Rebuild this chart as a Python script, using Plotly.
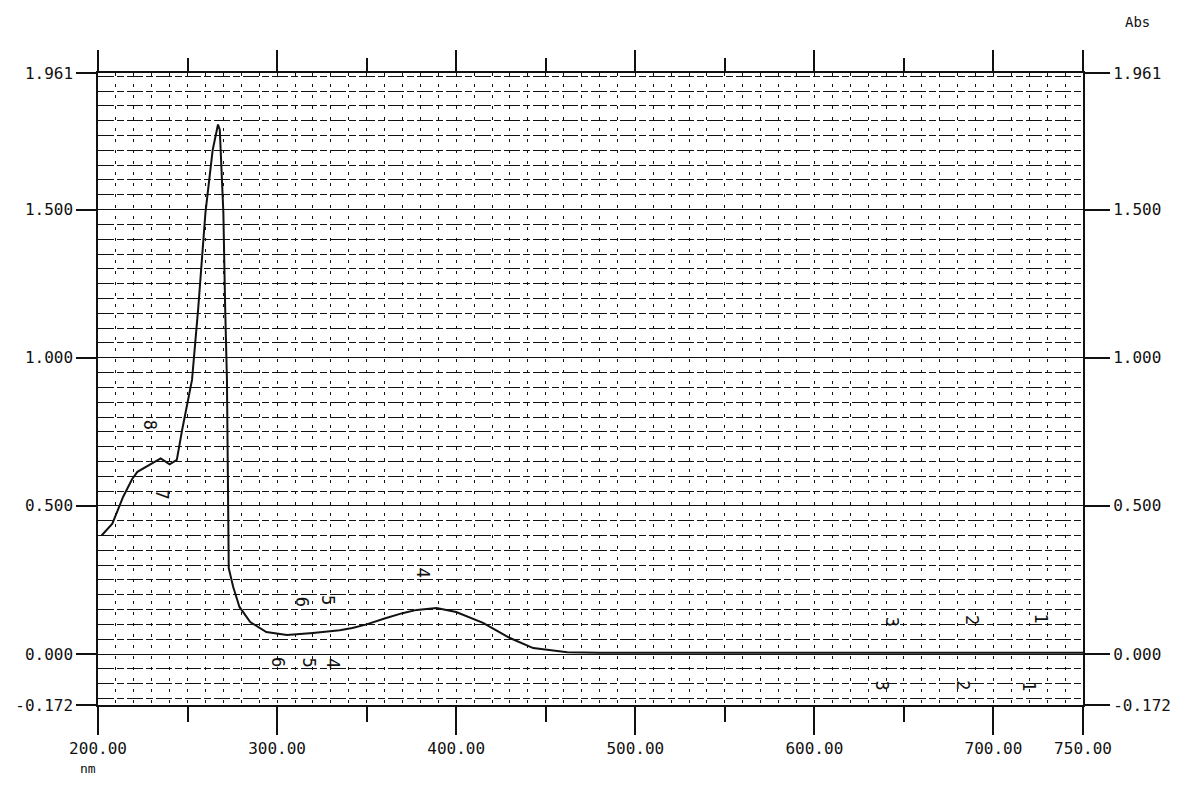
import plotly.graph_objects as go

# ---- data ----
wavelength = [202, 208, 214, 219, 222, 229, 235, 240, 244, 247, 250, 252.5, 256, 260, 264,
              266.5, 267, 268, 270, 271, 272, 273, 275.5, 279, 285, 294, 305.5, 320, 335,
              342, 350, 360, 370, 378, 389, 400, 415, 430, 443, 462, 480, 508, 550, 600,
              650, 700, 750]
absorbance = [0.40, 0.44, 0.53, 0.59, 0.615, 0.64, 0.66, 0.64, 0.655, 0.757, 0.85, 0.925,
              1.17, 1.49, 1.70, 1.77, 1.787, 1.77, 1.49, 1.17, 0.925, 0.29, 0.226, 0.159,
              0.108, 0.074, 0.064, 0.071, 0.080, 0.088, 0.100, 0.120, 0.138, 0.149, 0.155,
              0.142, 0.105, 0.054, 0.020, 0.006, 0.004, 0.004, 0.004, 0.004, 0.004, 0.004,
              0.004]

x_tick_vals = [200, 300, 400, 500, 600, 700, 750]
x_tick_text = ["200.00", "300.00", "400.00", "500.00", "600.00", "700.00", "750.00"]
x_half_ticks = [250, 350, 450, 550, 650]
y_tick_vals = [-0.172, 0.0, 0.5, 1.0, 1.5, 1.961]
y_tick_text = ["-0.172", "0.000", "0.500", "1.000", "1.500", "1.961"]

# peak / valley marker numbers (label, wavelength, absorbance)
marker_labels = ["8", "7", "6", "5", "4", "6", "5", "4", "3", "2", "1", "3", "2", "1"]
marker_x = [229, 236, 314, 328.5, 381.5, 300.5, 318, 331, 643.5, 688, 726, 638, 683, 720]
marker_y = [0.774, 0.537, 0.176, 0.182, 0.274, -0.027, -0.03, -0.03, 0.108, 0.115, 0.12,
            -0.108, -0.105, -0.11]

FONT = "DejaVu Sans Mono, Liberation Mono, monospace"
INK = "#111111"

fig = go.Figure()
fig.add_trace(go.Scatter(x=wavelength, y=absorbance, mode="lines",
                         line=dict(color=INK, width=2), showlegend=False,
                         hoverinfo="skip"))
# invisible helper traces so the overlay axes get drawn
for xa, ya in [("x2", "y"), ("x3", "y"), ("x", "y2")]:
    fig.add_trace(go.Scatter(x=[wavelength[0]], y=[absorbance[0]], xaxis=xa, yaxis=ya,
                             mode="markers", marker=dict(opacity=0), showlegend=False,
                             hoverinfo="skip"))

for lab, mx, my in zip(marker_labels, marker_x, marker_y):
    fig.add_annotation(x=mx, y=my, text=lab, showarrow=False, textangle=90,
                       font=dict(family=FONT, size=17, color=INK))

fig.add_annotation(x=(78 - 98) / 985, y=(705 - 778) / 632, xref="paper", yref="paper",
                   text="nm", showarrow=False, font=dict(family=FONT, size=13, color=INK))
fig.add_annotation(x=(1152 - 98) / 985, y=(705 - 12) / 632, xref="paper", yref="paper",
                   text="Abs", showarrow=False, font=dict(family=FONT, size=14, color=INK))

fig.update_layout(
    width=1179, height=794,
    margin=dict(l=98, r=96, t=73, b=89, autoexpand=False),
    paper_bgcolor="white", plot_bgcolor="white",
    font=dict(family=FONT, size=16, color=INK),
    xaxis=dict(range=[200, 750], tickmode="array", tickvals=x_tick_vals,
               ticktext=x_tick_text, ticks="outside", ticklen=28, tickwidth=1.5,
               tickcolor=INK, showline=True, linecolor=INK, linewidth=1.5, mirror=True,
               showgrid=True, gridcolor=INK, gridwidth=1, griddash="3px,8px",
               zeroline=False, automargin=False,
               tickfont=dict(family=FONT, size=16, color=INK),
               minor=dict(tickmode="linear", tick0=200, dtick=10, showgrid=True,
                          gridcolor=INK, gridwidth=1, griddash="3px,8px", ticks="")),
    xaxis2=dict(range=[200, 750], overlaying="x", side="top", anchor="y",
                tickmode="array", tickvals=x_tick_vals, ticks="outside", ticklen=22,
                tickwidth=1.5, tickcolor=INK, showticklabels=False, showgrid=False,
                zeroline=False, showline=False, automargin=False,
                minor=dict(tickmode="array", tickvals=x_half_ticks, ticks="outside",
                           ticklen=14, tickwidth=1.5, tickcolor=INK, showgrid=False)),
    xaxis3=dict(range=[200, 750], overlaying="x", side="bottom", anchor="y",
                tickmode="array", tickvals=x_half_ticks, ticks="outside", ticklen=16,
                tickwidth=1.5, tickcolor=INK, showticklabels=False, showgrid=False,
                zeroline=False, showline=False, automargin=False),
    yaxis=dict(range=[-0.172, 1.961], tickmode="array", tickvals=y_tick_vals,
               ticktext=y_tick_text, ticks="outside", ticklen=20, tickwidth=1.5,
               tickcolor=INK, showline=True, linecolor=INK, linewidth=1.5, mirror=True,
               showgrid=True, gridcolor=INK, gridwidth=1.4, zeroline=False,
               automargin=False, tickfont=dict(family=FONT, size=16, color=INK),
               minor=dict(tickmode="linear", tick0=0, dtick=0.05, showgrid=True,
                          gridcolor=INK, gridwidth=1.2, griddash="16px,3px,7px,3px",
                          ticks="")),
    yaxis2=dict(range=[-0.172, 1.961], overlaying="y", side="right", anchor="x",
                tickmode="array", tickvals=y_tick_vals, ticktext=y_tick_text,
                ticks="outside", ticklen=26, tickwidth=1.5, tickcolor=INK,
                showgrid=False, zeroline=False, showline=False, automargin=False,
                tickfont=dict(family=FONT, size=16, color=INK)),
)

fig.write_html("out.html")
